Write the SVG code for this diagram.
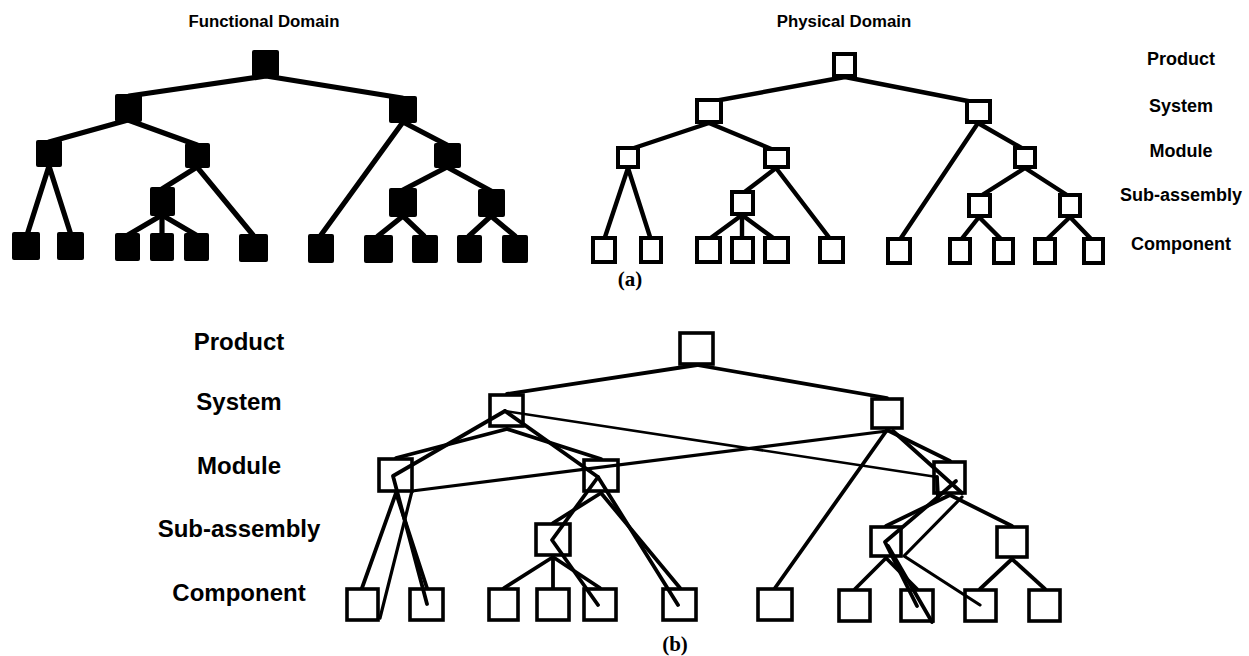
<svg xmlns="http://www.w3.org/2000/svg" width="1249" height="656" viewBox="0 0 1249 656">
  <style>
    .bg { fill: #ffffff; }
    .fn { fill: #000000; }
    .ph { fill: #ffffff; stroke: #000000; stroke-width: 4; }
    .pb { fill: none; stroke: #000000; stroke-width: 3.6; }
    .e5 { stroke: #000000; stroke-width: 5.2; fill: none; stroke-linecap: round; }
    .e4 { stroke: #000000; stroke-width: 4.4; fill: none; stroke-linecap: round; }
    .eb { stroke: #000000; stroke-width: 3.8; fill: none; stroke-linecap: round; stroke-linejoin: round; }
    .em { stroke: #000000; stroke-width: 3.2; fill: none; stroke-linecap: round; stroke-linejoin: round; }
    .et { stroke: #000000; stroke-width: 2.6; fill: none; stroke-linecap: round; stroke-linejoin: round; }
    .title { font-family: "Liberation Sans", Arial, sans-serif; font-weight: bold; font-size: 16.8px; fill: #000; text-anchor: middle; }
    .lvs { font-family: "Liberation Sans", Arial, sans-serif; font-weight: bold; font-size: 18px; fill: #000; text-anchor: middle; }
    .lvb { font-family: "Liberation Sans", Arial, sans-serif; font-weight: bold; font-size: 24px; fill: #000; text-anchor: middle; }
    .cap { font-family: "Liberation Serif", "Times New Roman", serif; font-weight: bold; font-size: 21px; fill: #000; text-anchor: middle; }
  </style>
  <rect class="bg" x="0" y="0" width="1249" height="656"/>

  <!-- captions and level labels -->
  <g id="labels">
    <text class="title" x="264" y="27">Functional Domain</text>
    <text class="title" x="844" y="27">Physical Domain</text>
    <text class="lvs" x="1181" y="65">Product</text>
    <text class="lvs" x="1181" y="112">System</text>
    <text class="lvs" x="1181" y="157">Module</text>
    <text class="lvs" x="1181" y="201">Sub-assembly</text>
    <text class="lvs" x="1181" y="250">Component</text>
    <text class="cap" x="630" y="286">(a)</text>
    <text class="lvb" x="239" y="350">Product</text>
    <text class="lvb" x="239" y="410">System</text>
    <text class="lvb" x="239" y="474">Module</text>
    <text class="lvb" x="239" y="537">Sub-assembly</text>
    <text class="lvb" x="239" y="601">Component</text>
    <text class="cap" x="675" y="651">(b)</text>
  </g>

  <!-- connectors -->
  <g id="connectors">
    <!-- functional domain hierarchy -->
    <line class="e5" x1="266" y1="76" x2="129" y2="96"/>
    <line class="e5" x1="266" y1="76" x2="402" y2="98"/>
    <line class="e5" x1="128" y1="120" x2="49" y2="142"/>
    <line class="e5" x1="128" y1="120" x2="197" y2="145"/>
    <line class="e5" x1="49" y1="166" x2="27" y2="235"/>
    <line class="e5" x1="49" y1="166" x2="71" y2="235"/>
    <line class="e5" x1="197" y1="167" x2="162" y2="189"/>
    <line class="e5" x1="197" y1="167" x2="253" y2="235"/>
    <line class="e5" x1="162" y1="215" x2="128" y2="235"/>
    <line class="e5" x1="162" y1="215" x2="162" y2="235"/>
    <line class="e5" x1="162" y1="215" x2="196" y2="235"/>
    <line class="e5" x1="403" y1="122" x2="321" y2="235"/>
    <line class="e5" x1="403" y1="122" x2="447" y2="145"/>
    <line class="e5" x1="447" y1="167" x2="403" y2="190"/>
    <line class="e5" x1="447" y1="167" x2="491" y2="191"/>
    <line class="e5" x1="403" y1="216" x2="378" y2="236"/>
    <line class="e5" x1="403" y1="216" x2="424" y2="236"/>
    <line class="e5" x1="491" y1="216" x2="469" y2="236"/>
    <line class="e5" x1="491" y1="216" x2="515" y2="236"/>

    <!-- physical domain hierarchy -->
    <line class="e4" x1="845" y1="77" x2="709" y2="102"/>
    <line class="e4" x1="845" y1="77" x2="978" y2="103"/>
    <line class="e4" x1="709" y1="123" x2="628" y2="150"/>
    <line class="e4" x1="709" y1="123" x2="776" y2="151"/>
    <line class="e4" x1="628" y1="168" x2="604" y2="240"/>
    <line class="e4" x1="628" y1="168" x2="651" y2="240"/>
    <line class="e4" x1="776" y1="168" x2="742" y2="194"/>
    <line class="e4" x1="776" y1="168" x2="831" y2="240"/>
    <line class="e4" x1="742" y1="215" x2="708" y2="240"/>
    <line class="e4" x1="742" y1="215" x2="742" y2="240"/>
    <line class="e4" x1="742" y1="215" x2="776" y2="240"/>
    <line class="e4" x1="978" y1="123" x2="899" y2="241"/>
    <line class="e4" x1="978" y1="123" x2="1025" y2="150"/>
    <line class="e4" x1="1025" y1="168" x2="979" y2="197"/>
    <line class="e4" x1="1025" y1="168" x2="1070" y2="197"/>
    <line class="e4" x1="979" y1="217" x2="960" y2="241"/>
    <line class="e4" x1="979" y1="217" x2="1003" y2="241"/>
    <line class="e4" x1="1070" y1="217" x2="1045" y2="241"/>
    <line class="e4" x1="1070" y1="217" x2="1093" y2="241"/>

    <!-- combined view: physical hierarchy -->
    <line class="eb" x1="697" y1="365" x2="507" y2="394"/>
    <line class="eb" x1="697" y1="365" x2="887" y2="398"/>
    <line class="eb" x1="507" y1="429" x2="396" y2="458"/>
    <line class="eb" x1="507" y1="429" x2="601" y2="459"/>
    <line class="eb" x1="396" y1="493" x2="362" y2="588"/>
    <line class="eb" x1="396" y1="493" x2="427" y2="588"/>
    <line class="eb" x1="601" y1="493" x2="553" y2="523"/>
    <line class="eb" x1="601" y1="493" x2="680" y2="588"/>
    <line class="eb" x1="553" y1="557" x2="504" y2="588"/>
    <line class="eb" x1="553" y1="557" x2="553" y2="588"/>
    <line class="eb" x1="553" y1="557" x2="600" y2="588"/>
    <line class="eb" x1="887" y1="430" x2="775" y2="588"/>
    <line class="eb" x1="887" y1="430" x2="950" y2="461"/>
    <line class="eb" x1="950" y1="495" x2="886" y2="526"/>
    <line class="eb" x1="950" y1="495" x2="1012" y2="526"/>
    <line class="eb" x1="886" y1="558" x2="855" y2="589"/>
    <line class="eb" x1="886" y1="558" x2="917" y2="589"/>
    <line class="eb" x1="1012" y1="559" x2="980" y2="589"/>
    <line class="eb" x1="1012" y1="559" x2="1045" y2="589"/>

    <!-- combined view: functional mapping onto physical elements -->
    <polyline class="eb" points="505,411 393,476 427,604"/>
    <polyline class="eb" points="505,411 598,477 552,540 598,605"/>
    <line class="eb" x1="598" y1="477" x2="678" y2="605"/>
    <polyline class="em" points="887,431 412,491 380,618"/>
    <line class="et" x1="505" y1="411" x2="937" y2="477"/>
    <polyline class="eb" points="893,431 962,493"/>
    <line class="eb" x1="956" y1="481" x2="939" y2="496"/>
    <line class="eb" x1="937" y1="477" x2="938" y2="497"/>
    <polyline class="eb" points="938,497 885,542 917,606"/>
    <line class="eb" x1="888" y1="546" x2="932" y2="622"/>
    <polyline class="em" points="962,497 904,556 980,605"/>
  </g>

  <!-- functional domain nodes -->
  <g id="fd-product"><rect class="fn" x="252" y="50" width="27" height="27" rx="2"/></g>
  <g id="fd-system-1"><rect class="fn" x="115" y="94" width="27" height="28" rx="2"/></g>
  <g id="fd-system-2"><rect class="fn" x="389" y="96" width="28" height="27" rx="2"/></g>
  <g id="fd-module-1"><rect class="fn" x="36" y="140" width="26" height="27" rx="2"/></g>
  <g id="fd-module-2"><rect class="fn" x="185" y="143" width="25" height="25" rx="2"/></g>
  <g id="fd-module-3"><rect class="fn" x="434" y="143" width="27" height="25" rx="2"/></g>
  <g id="fd-subassembly-1"><rect class="fn" x="150" y="187" width="25" height="29" rx="2"/></g>
  <g id="fd-subassembly-2"><rect class="fn" x="389" y="188" width="28" height="29" rx="2"/></g>
  <g id="fd-subassembly-3"><rect class="fn" x="478" y="189" width="27" height="28" rx="2"/></g>
  <g id="fd-component-1"><rect class="fn" x="12" y="232" width="28" height="28" rx="2"/></g>
  <g id="fd-component-2"><rect class="fn" x="57" y="232" width="27" height="28" rx="2"/></g>
  <g id="fd-component-3"><rect class="fn" x="115" y="233" width="25" height="28" rx="2"/></g>
  <g id="fd-component-4"><rect class="fn" x="150" y="233" width="24" height="28" rx="2"/></g>
  <g id="fd-component-5"><rect class="fn" x="184" y="233" width="25" height="28" rx="2"/></g>
  <g id="fd-component-6"><rect class="fn" x="239" y="234" width="29" height="28" rx="2"/></g>
  <g id="fd-component-7"><rect class="fn" x="308" y="234" width="26" height="29" rx="2"/></g>
  <g id="fd-component-8"><rect class="fn" x="364" y="235" width="29" height="28" rx="2"/></g>
  <g id="fd-component-9"><rect class="fn" x="412" y="235" width="26" height="28" rx="2"/></g>
  <g id="fd-component-10"><rect class="fn" x="457" y="235" width="25" height="28" rx="2"/></g>
  <g id="fd-component-11"><rect class="fn" x="502" y="235" width="26" height="28" rx="2"/></g>

  <!-- physical domain nodes -->
  <g id="pd-product"><rect class="ph" x="834" y="54" width="21" height="22"/></g>
  <g id="pd-system-1"><rect class="ph" x="697" y="100" width="24" height="22"/></g>
  <g id="pd-system-2"><rect class="ph" x="967" y="101" width="23" height="21"/></g>
  <g id="pd-module-1"><rect class="ph" x="618" y="148" width="20" height="19"/></g>
  <g id="pd-module-2"><rect class="ph" x="765" y="149" width="23" height="18"/></g>
  <g id="pd-module-3"><rect class="ph" x="1015" y="148" width="20" height="19"/></g>
  <g id="pd-subassembly-1"><rect class="ph" x="732" y="192" width="21" height="22"/></g>
  <g id="pd-subassembly-2"><rect class="ph" x="969" y="195" width="21" height="21"/></g>
  <g id="pd-subassembly-3"><rect class="ph" x="1060" y="195" width="20" height="21"/></g>
  <g id="pd-component-1"><rect class="ph" x="593" y="238" width="22" height="24"/></g>
  <g id="pd-component-2"><rect class="ph" x="641" y="238" width="20" height="24"/></g>
  <g id="pd-component-3"><rect class="ph" x="697" y="238" width="23" height="24"/></g>
  <g id="pd-component-4"><rect class="ph" x="732" y="238" width="21" height="24"/></g>
  <g id="pd-component-5"><rect class="ph" x="765" y="238" width="23" height="24"/></g>
  <g id="pd-component-6"><rect class="ph" x="820" y="238" width="23" height="24"/></g>
  <g id="pd-component-7"><rect class="ph" x="888" y="239" width="22" height="24"/></g>
  <g id="pd-component-8"><rect class="ph" x="950" y="239" width="20" height="24"/></g>
  <g id="pd-component-9"><rect class="ph" x="994" y="239" width="19" height="24"/></g>
  <g id="pd-component-10"><rect class="ph" x="1035" y="239" width="20" height="24"/></g>
  <g id="pd-component-11"><rect class="ph" x="1084" y="239" width="19" height="24"/></g>

  <!-- combined view nodes -->
  <g id="cv-product"><rect class="pb" x="680" y="333" width="33" height="31"/></g>
  <g id="cv-system-1"><rect class="pb" x="490" y="395" width="33" height="31"/></g>
  <g id="cv-system-2"><rect class="pb" x="872" y="399" width="30" height="29"/></g>
  <g id="cv-module-1"><rect class="pb" x="379" y="459" width="33" height="32"/></g>
  <g id="cv-module-2"><rect class="pb" x="584" y="460" width="34" height="31"/></g>
  <g id="cv-module-3"><rect class="pb" x="934" y="462" width="31" height="31"/></g>
  <g id="cv-subassembly-1"><rect class="pb" x="536" y="524" width="34" height="31"/></g>
  <g id="cv-subassembly-2"><rect class="pb" x="871" y="527" width="30" height="29"/></g>
  <g id="cv-subassembly-3"><rect class="pb" x="997" y="527" width="30" height="30"/></g>
  <g id="cv-component-1"><rect class="pb" x="347" y="589" width="31" height="31"/></g>
  <g id="cv-component-2"><rect class="pb" x="410" y="589" width="33" height="31"/></g>
  <g id="cv-component-3"><rect class="pb" x="489" y="589" width="29" height="31"/></g>
  <g id="cv-component-4"><rect class="pb" x="537" y="589" width="32" height="31"/></g>
  <g id="cv-component-5"><rect class="pb" x="584" y="589" width="32" height="31"/></g>
  <g id="cv-component-6"><rect class="pb" x="663" y="589" width="33" height="31"/></g>
  <g id="cv-component-7"><rect class="pb" x="758" y="589" width="34" height="31"/></g>
  <g id="cv-component-8"><rect class="pb" x="839" y="590" width="31" height="31"/></g>
  <g id="cv-component-9"><rect class="pb" x="901" y="590" width="32" height="31"/></g>
  <g id="cv-component-10"><rect class="pb" x="965" y="590" width="31" height="31"/></g>
  <g id="cv-component-11"><rect class="pb" x="1029" y="590" width="31" height="31"/></g>
</svg>
